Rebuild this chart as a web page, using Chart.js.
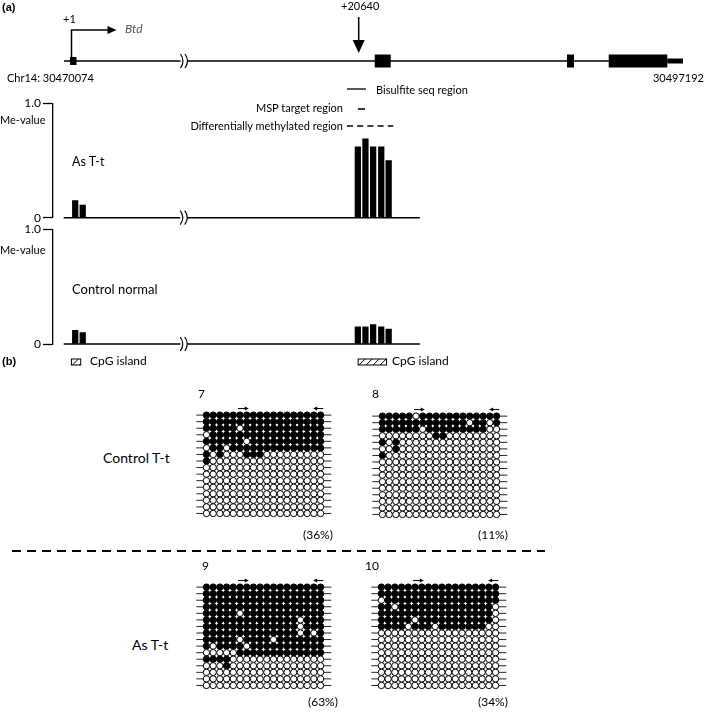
<!DOCTYPE html>
<html>
<head>
<meta charset="utf-8">
<title>Btd methylation</title>
<script src="https://cdn.jsdelivr.net/npm/chart.js@4.4.1/dist/chart.umd.min.js"></script>
<style>
  body { margin: 0; background: #fff; }
  #fig { position: relative; width: 706px; height: 714px; overflow: hidden; font-family: Lato, 'Open Sans', sans-serif; color: #000; }
  #fig canvas { position: absolute; }
  .t { position: absolute; white-space: nowrap; font-size: 12px; line-height: 1; }
  .s { font-size: 11px; }
  .m { font-size: 13px; }
  .l { font-size: 14px; }
  .b { font-family: Arial, 'Liberation Sans', sans-serif; font-weight: bold; font-size: 11px; }
  #sep { position: absolute; left: 12px; top: 550px; width: 533px; height: 1.5px;
         background: repeating-linear-gradient(90deg, #000 0 9px, transparent 9px 15px); }
</style>
</head>
<body>
<div id="fig">
  <canvas id="gene" width="706" height="135" style="left:0;top:0"></canvas>
  <canvas id="asTt" width="706" height="142" style="left:0;top:88px"></canvas>
  <canvas id="ctrlNormal" width="706" height="160" style="left:0;top:215px"></canvas>
  <canvas id="clone7" width="151" height="128" style="left:188px;top:397px"></canvas>
  <canvas id="clone8" width="151" height="128" style="left:364px;top:398px"></canvas>
  <canvas id="clone9" width="151" height="128" style="left:188px;top:569px"></canvas>
  <canvas id="clone10" width="151" height="128" style="left:363px;top:569px"></canvas>

  <div class="t b" style="left:2px;top:2px">(a)</div>
  <div class="t s" style="left:63px;top:13px">+1</div>
  <div class="t" style="left:125px;top:23px;font-style:italic;color:#555">Btd</div>
  <div class="t s" style="left:341px;top:0">+20640</div>
  <div class="t s" style="left:7px;top:72px">Chr14: 30470074</div>
  <div class="t s" style="right:2px;top:72px">30497192</div>
  <div class="t s" style="left:376px;top:84px">Bisulfite seq region</div>
  <div class="t s" style="right:363px;top:102px">MSP target region</div>
  <div class="t s" style="right:363px;top:120px">Differentially methylated region</div>
  <div class="t s" style="left:0;top:114px">Me-value</div>
  <div class="t" style="left:72px;top:156px;font-size:12.5px">As T-t</div>
  <div class="t s" style="left:0;top:244px">Me-value</div>
  <div class="t m" style="left:72px;top:283px">Control normal</div>
  <div class="t" style="left:90px;top:355px">CpG island</div>
  <div class="t" style="left:392px;top:355px">CpG island</div>

  <div class="t b" style="left:2px;top:356px">(b)</div>
  <div class="t" style="left:198px;top:388px">7</div>
  <div class="t" style="left:372px;top:388px">8</div>
  <div class="t" style="left:202px;top:560px">9</div>
  <div class="t" style="left:365px;top:560px">10</div>
  <div class="t l" style="left:103px;top:451px">Control T-t</div>
  <div class="t l" style="left:132px;top:638px">As T-t</div>
  <div class="t" style="left:303px;top:529px">(36%)</div>
  <div class="t" style="left:478px;top:529px">(11%)</div>
  <div class="t" style="left:308px;top:696px">(63%)</div>
  <div class="t" style="left:478px;top:696px">(34%)</div>
  <div id="sep"></div>
</div>

<script>
// positions along the schematic gene map (0 = left end of the drawn line)
const exon1 = [[6, 12.5]];
const exons = [[310.7, 326.7], [503, 510], [544.7, 603.3]];
const utr3 = [[603.3, 619]];
const geneEnd = 619;
const breakAt = [116.5, 123.5];
const tssPos = 7.5;
const markPos = 294.7; // +20640
const bisulfiteRegion = [283, 302];
const mspRegion = [294, 301];
const dmrRegion = [283, 329.3];
const cpgIslands = [[7.7, 17], [294.3, 322.7]];

// Me-values per CpG site
const cpgSites = [11.5, 19, 294, 301.6, 309.3, 317.4, 324.8];
const meAsTt = [0.15, 0.11, 0.62, 0.69, 0.62, 0.62, 0.50];
const meControl = [0.12, 0.10, 0.15, 0.15, 0.17, 0.15, 0.13];
const plotEnd = 356;
const meTicks = [0, 1];

// bisulfite sequencing clones, 1 = methylated CpG
const clone7 = [
  '111111111111111111', '111111111111111111', '111110111111111111', '011111111111111111',
  '111111011111111111', '011011111111111111', '101000111000000000', '100000000000000000',
  '000000000000000000', '000000000000000000', '000000000000000000', '000000000000000000',
  '000000000000000000', '000000000000000000', '000000000000000000', '000000000000000000'
];
const clone8 = [
  '111110111111111111', '111111111111101101', '111111011111111100', '000000001100000000',
  '101000000000000000', '001000000000000000', '100000000000000000', '000000000000000000',
  '000000000000000000', '000000000000000000', '000000000000000000', '000000000000000000',
  '000000000000000000', '000000000000000000', '000000000000000000', '000000000000000000'
];
const clone9 = [
  '111111111111111111', '111111111111111111', '111111111111111111', '111111111111111111',
  '111110111111111111', '111111111111110111', '111111111111110111', '111111111111110101',
  '111110111101111111', '101111011111111111', '000001111111111111', '111100000000000000',
  '000100000000000000', '000000000000000000', '000000000000000000', '000000000000000000'
];
const clone10 = [
  '111111111111111111', '111111111111111111', '011111111111111111', '110111111111111110',
  '111111111111111110', '111110111111111110', '111101110111111100', '000000000000000000',
  '000000000000000000', '000000000000000000', '000000000000000000', '000000000000000000',
  '000000000000000000', '000000000000000000', '000000000000000000', '000000000000000000'
];
const fwdPrimer = [5.7, 7.3];
const revPrimer = [18.4, 16.9];

Chart.defaults.font.family = 'Lato';

function segs(list, y) {
  const out = [];
  list.forEach(function (s) {
    out.push({ x: s[0], y: y }, { x: s[1], y: y }, { x: s[1], y: null });
  });
  return out;
}

function lineDs(data, width, extra) {
  return Object.assign({
    type: 'line', data: data, borderColor: '#000', borderWidth: width,
    pointRadius: 0, borderCapStyle: 'butt', tension: 0, clip: false
  }, extra || {});
}

function baseOpts(padding, scales) {
  return {
    responsive: false, animation: false, devicePixelRatio: 1, events: [],
    layout: { padding: padding },
    plugins: { legend: { display: false }, tooltip: { enabled: false } },
    scales: scales
  };
}

// "))" axis break
const breakMark = {
  id: 'breakMark',
  afterDatasetsDraw(chart) {
    const { ctx, scales: { x, y } } = chart;
    const px = x.getPixelForValue(breakAt[0]);
    const py = y.getPixelForValue(0);
    ctx.save();
    ctx.strokeStyle = '#000';
    ctx.lineWidth = 1.2;
    [0, 4.5].forEach(function (dx) {
      ctx.beginPath();
      ctx.moveTo(px + dx, py - 7);
      ctx.quadraticCurveTo(px + dx + 5, py, px + dx, py + 7);
      ctx.stroke();
    });
    ctx.restore();
  }
};

// TSS bent arrow and the +20640 arrow
const geneDecor = {
  id: 'geneDecor',
  afterDatasetsDraw(chart) {
    const { ctx, scales: { x, y } } = chart;
    const y0 = y.getPixelForValue(0);
    const xt = x.getPixelForValue(tssPos);
    const xm = x.getPixelForValue(markPos);
    ctx.save();
    ctx.strokeStyle = '#000';
    ctx.fillStyle = '#000';
    ctx.lineWidth = 1.5;
    ctx.beginPath();
    ctx.moveTo(xt, y0);
    ctx.lineTo(xt, y0 - 31);
    ctx.lineTo(xt + 37, y0 - 31);
    ctx.stroke();
    ctx.beginPath();
    ctx.moveTo(xt + 36, y0 - 35);
    ctx.lineTo(xt + 45, y0 - 31);
    ctx.lineTo(xt + 36, y0 - 27);
    ctx.fill();

    ctx.beginPath();
    ctx.moveTo(xm, y0 - 44);
    ctx.lineTo(xm, y0 - 20);
    ctx.stroke();
    ctx.beginPath();
    ctx.moveTo(xm - 6, y0 - 21);
    ctx.lineTo(xm + 6, y0 - 21);
    ctx.lineTo(xm, y0 - 8);
    ctx.fill();
    ctx.restore();
  }
};

// CpG island boxes under the control track
const islandMark = {
  id: 'islandMark',
  afterDatasetsDraw(chart) {
    const { ctx, scales: { x, y } } = chart;
    const top = y.getPixelForValue(0) + 15;
    const h = 6;
    ctx.save();
    ctx.strokeStyle = '#000';
    ctx.lineWidth = 1;
    cpgIslands.forEach(function (isl) {
      const x0 = x.getPixelForValue(isl[0]);
      const x1 = x.getPixelForValue(isl[1]);
      ctx.strokeRect(x0, top, x1 - x0, h);
      ctx.save();
      ctx.beginPath();
      ctx.rect(x0, top, x1 - x0, h);
      ctx.clip();
      for (let s = x0 + 7; s < x1 + h; s += 7) {
        ctx.beginPath();
        ctx.moveTo(s - h, top + h);
        ctx.lineTo(s, top);
        ctx.stroke();
      }
      ctx.restore();
    });
    ctx.restore();
  }
};

// primer arrows above each clone grid
const primerMark = {
  id: 'primerMark',
  afterDatasetsDraw(chart) {
    const { ctx, scales: { x, y } } = chart;
    const py = y.getPixelForValue(0);
    ctx.save();
    ctx.strokeStyle = '#000';
    ctx.fillStyle = '#000';
    ctx.lineWidth = 1;
    [fwdPrimer, revPrimer].forEach(function (p) {
      const x0 = x.getPixelForValue(p[0]);
      const x1 = x.getPixelForValue(p[1]);
      const d = Math.sign(x1 - x0);
      ctx.beginPath();
      ctx.moveTo(x0, py);
      ctx.lineTo(x1 - d * 3, py);
      ctx.stroke();
      ctx.beginPath();
      ctx.moveTo(x1, py);
      ctx.lineTo(x1 - d * 4, py - 2);
      ctx.lineTo(x1 - d * 4, py + 2);
      ctx.closePath();
      ctx.fill();
    });
    ctx.restore();
  }
};

// gene structure
new Chart(document.getElementById('gene'), {
  type: 'line',
  data: {
    datasets: [
      lineDs(segs([[0, breakAt[0]], [breakAt[1], geneEnd]], 0), 1.5),
      lineDs(segs(exon1, 0), 8),
      lineDs(segs(exons, 0), 13),
      lineDs(segs(utr3, 0), 5),
      lineDs(segs([bisulfiteRegion], -28), 1.3),
      lineDs(segs([mspRegion], -48), 1.6),
      lineDs(segs([dmrRegion], -65), 1.3, { borderDash: [6, 4.2] })
    ]
  },
  options: baseOpts({ left: 64, right: 23, top: 0, bottom: 0 }, {
    x: { type: 'linear', min: 0, max: geneEnd, display: false },
    y: { type: 'linear', min: -74, max: 61, display: false }
  }),
  plugins: [geneDecor, breakMark]
});

function meChart(id, values, padTop, padBottom, extra) {
  const baseline = segs([[0, breakAt[0]], [breakAt[1], plotEnd]], 0);
  return new Chart(document.getElementById(id), {
    type: 'bar',
    data: {
      datasets: [
        lineDs(baseline, 1.5),
        {
          type: 'bar',
          data: cpgSites.map(function (p, i) { return { x: p, y: values[i] }; }),
          backgroundColor: '#000', barThickness: 5.6
        }
      ]
    },
    options: baseOpts({ left: 0, right: 23, top: padTop, bottom: padBottom }, {
      x: { type: 'linear', min: -10.7, max: geneEnd, offset: false, display: false },
      y: {
        type: 'linear', min: 0, max: 1,
        afterBuildTicks: function (s) { s.ticks = meTicks.map(function (v) { return { value: v }; }); },
        afterFit: function (s) { s.width = 53; },
        ticks: { color: '#000', font: { size: 12 }, padding: 2, callback: function (v) { return v === 1 ? '1.0' : '0'; } },
        grid: { drawOnChartArea: false, tickLength: 10, tickColor: '#000', tickWidth: 1.3 },
        border: { color: '#000', width: 1.3 }
      }
    }),
    plugins: [breakMark].concat(extra || [])
  });
}

meChart('asTt', meAsTt, 15.3, 12.3);
meChart('ctrlNormal', meControl, 14.3, 31, [islandMark]);

function cloneChart(id, rows) {
  const nCol = rows[0].length;
  const pts = [];
  rows.forEach(function (row, r) {
    row.split('').forEach(function (b, c) {
      pts.push({ x: c + 1, y: r + 1, m: b === '1' });
    });
  });
  const strands = rows.map(function (row, r) {
    return lineDs([{ x: -0.5, y: r + 1 }, { x: nCol + 1.6, y: r + 1 }], 1, { borderColor: '#222' });
  });
  return new Chart(document.getElementById(id), {
    type: 'scatter',
    data: {
      datasets: [{
        data: pts, pointRadius: 3.2, pointBorderWidth: 1, pointBorderColor: '#000',
        pointBackgroundColor: function (c) { return c.raw && c.raw.m ? '#000' : '#fff'; },
        clip: false
      }].concat(strands)
    },
    options: baseOpts({ left: 0, right: 0, top: 0, bottom: 0 }, {
      x: { type: 'linear', min: -1, max: nCol + 2, display: false },
      y: { type: 'linear', min: -1, max: rows.length + 1, reverse: true, display: false }
    }),
    plugins: [primerMark]
  });
}

cloneChart('clone7', clone7);
cloneChart('clone8', clone8);
cloneChart('clone9', clone9);
cloneChart('clone10', clone10);
</script>
</body>
</html>
